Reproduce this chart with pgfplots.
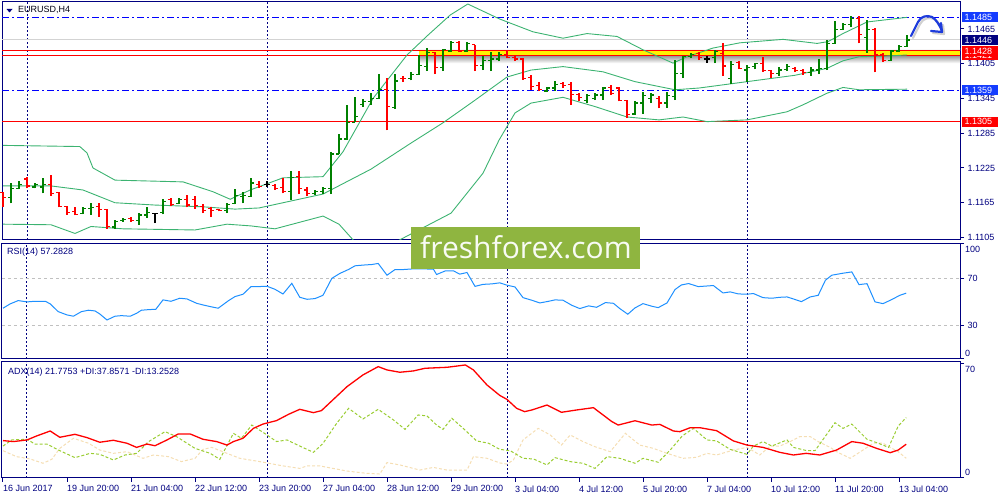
\documentclass[border=0pt]{standalone}
\usepackage{fontspec}
\setmainfont{Liberation Sans}
\newfontfamily\wmfont{Open Sans}
\usepackage{pgfplots}
\usepackage{pgfplotstable}
\pgfplotsset{compat=1.18}

\definecolor{navy}{RGB}{0,0,128}
\definecolor{bull}{RGB}{0,128,0}
\definecolor{bear}{RGB}{255,0,0}
\definecolor{band}{RGB}{60,179,113}
\definecolor{rsiline}{RGB}{30,144,255}
\definecolor{plusdi}{RGB}{154,205,50}
\definecolor{minusdi}{RGB}{245,222,179}
\definecolor{lvlblue}{RGB}{0,0,255}
\definecolor{lblblue}{RGB}{20,60,255}
\definecolor{wm}{RGB}{143,181,64}
\definecolor{pen}{RGB}{30,60,220}

% OHLC ticks
\pgfdeclareplotmark{otick}{\pgfpathmoveto{\pgfpoint{-3pt}{0pt}}\pgfpathlineto{\pgfpoint{0pt}{0pt}}\pgfusepathqstroke}
\pgfdeclareplotmark{ctick}{\pgfpathmoveto{\pgfpoint{0pt}{0pt}}\pgfpathlineto{\pgfpoint{3pt}{0pt}}\pgfusepathqstroke}

\pgfplotsset{
  mtpanel/.style={
    scale only axis, width=958pt, anchor=south west,
    xmin=-0.125, xmax=119.625,
    axis line style={navy, line width=1pt},
    xtick=\empty,
    extra x ticks={3,33,63,93}, extra x tick labels={},
    extra x tick style={grid=major, major tick length=0pt},
    major grid style={navy, line width=1pt, dash pattern=on 2pt off 2pt},
    ytick pos=right, yticklabel pos=right,
    tick align=outside, major tick length=4pt,
    tick style={navy, line width=1pt},
    tick label style={font=\fontsize{9}{10}\selectfont, text=navy},
    /pgf/number format/assume math mode=true,
  },
  lvl/.style={line width=1pt},
}

% bars, split by colour: bullish, bearish, unchanged
\pgfplotstableread{
i o h l c
1 1.1174 1.1199 1.1164 1.1190
2 1.1190 1.1203 1.1188 1.1197
4 1.1192 1.1199 1.1190 1.1197
5 1.1192 1.1207 1.1181 1.1196
10 1.1147 1.1158 1.1145 1.1155
11 1.1155 1.1164 1.1144 1.1157
14 1.1123 1.1135 1.1120 1.1132
15 1.1134 1.1138 1.1132 1.1136
17 1.1135 1.1147 1.1127 1.1144
18 1.1144 1.1157 1.1139 1.1148
20 1.1148 1.1171 1.1145 1.1167
22 1.1164 1.1173 1.1162 1.1171
28 1.1152 1.1164 1.1147 1.1162
29 1.1164 1.1189 1.1162 1.1177
30 1.1176 1.1183 1.1164 1.1177
31 1.1176 1.1208 1.1175 1.1199
36 1.1185 1.1220 1.1170 1.1208
39 1.1181 1.1187 1.1179 1.1184
40 1.1184 1.1193 1.1180 1.1190
41 1.1189 1.1253 1.1180 1.1249
42 1.1249 1.1284 1.1249 1.1275
43 1.1275 1.1334 1.1273 1.1304
44 1.1304 1.1348 1.1304 1.1314
45 1.1335 1.1344 1.1331 1.1340
46 1.1340 1.1354 1.1334 1.1345
47 1.1345 1.1387 1.1344 1.1360
49 1.1329 1.1388 1.1327 1.1375
51 1.1379 1.1390 1.1376 1.1387
52 1.1387 1.1420 1.1386 1.1402
53 1.1400 1.1432 1.1392 1.1425
55 1.1398 1.1430 1.1392 1.1429
56 1.1427 1.1444 1.1426 1.1442
58 1.1427 1.1443 1.1426 1.1440
60 1.1402 1.1419 1.1394 1.1411
61 1.1410 1.1426 1.1392 1.1413
62 1.1413 1.1425 1.1409 1.1421
68 1.1358 1.1365 1.1356 1.1363
69 1.1363 1.1375 1.1358 1.1369
73 1.1342 1.1352 1.1337 1.1350
74 1.1345 1.1354 1.1342 1.1351
75 1.1351 1.1365 1.1342 1.1363
79 1.1318 1.1340 1.1317 1.1337
80 1.1337 1.1357 1.1319 1.1350
81 1.1345 1.1354 1.1337 1.1351
83 1.1337 1.1356 1.1329 1.1350
84 1.1348 1.1411 1.1342 1.1388
85 1.1388 1.1419 1.1380 1.1417
86 1.1417 1.1423 1.1414 1.1421
89 1.1415 1.1429 1.1406 1.1426
91 1.1380 1.1409 1.1370 1.1403
93 1.1394 1.1403 1.1374 1.1399
94 1.1400 1.1407 1.1395 1.1405
97 1.1388 1.1400 1.1384 1.1394
98 1.1395 1.1405 1.1393 1.1400
101 1.1390 1.1400 1.1384 1.1394
102 1.1394 1.1413 1.1387 1.1397
103 1.1397 1.1446 1.1394 1.1440
104 1.1440 1.1478 1.1439 1.1464
105 1.1464 1.1476 1.1463 1.1473
106 1.1472 1.1487 1.1468 1.1483
108 1.1450 1.1480 1.1424 1.1464
111 1.1410 1.1428 1.1410 1.1427
112 1.1427 1.1437 1.1426 1.1434
113 1.1435 1.1454 1.1434 1.1446
}\barsup

\pgfplotstableread{
i o h l c
0 1.1183 1.1184 1.1157 1.1174
3 1.1206 1.1209 1.1190 1.1194
6 1.1196 1.1213 1.1177 1.1181
7 1.1183 1.1183 1.1157 1.1158
8 1.1158 1.1159 1.1144 1.1148
9 1.1150 1.1157 1.1143 1.1145
12 1.1158 1.1164 1.1141 1.1154
13 1.1154 1.1155 1.1120 1.1124
16 1.1138 1.1141 1.1132 1.1135
21 1.1170 1.1173 1.1159 1.1162
23 1.1171 1.1178 1.1157 1.1161
24 1.1170 1.1176 1.1155 1.1160
25 1.1158 1.1162 1.1147 1.1152
26 1.1155 1.1158 1.1140 1.1152
27 1.1154 1.1155 1.1150 1.1152
32 1.1197 1.1202 1.1191 1.1193
34 1.1195 1.1197 1.1187 1.1190
35 1.1191 1.1207 1.1181 1.1184
37 1.1210 1.1219 1.1180 1.1189
38 1.1187 1.1193 1.1176 1.1181
48 1.1361 1.1380 1.1290 1.1331
50 1.1380 1.1383 1.1374 1.1379
54 1.1425 1.1426 1.1387 1.1399
57 1.1442 1.1444 1.1425 1.1427
59 1.1438 1.1438 1.1392 1.1402
63 1.1420 1.1427 1.1414 1.1415
64 1.1415 1.1419 1.1410 1.1413
65 1.1413 1.1414 1.1377 1.1380
66 1.1381 1.1386 1.1360 1.1365
67 1.1368 1.1373 1.1358 1.1361
70 1.1371 1.1374 1.1363 1.1368
71 1.1369 1.1374 1.1334 1.1352
72 1.1352 1.1354 1.1341 1.1346
76 1.1364 1.1369 1.1351 1.1354
77 1.1363 1.1365 1.1340 1.1342
78 1.1341 1.1342 1.1311 1.1317
82 1.1345 1.1350 1.1328 1.1337
87 1.1423 1.1426 1.1411 1.1416
90 1.1423 1.1440 1.1384 1.1401
92 1.1407 1.1409 1.1395 1.1397
95 1.1406 1.1416 1.1391 1.1393
96 1.1393 1.1394 1.1380 1.1388
99 1.1397 1.1399 1.1391 1.1393
100 1.1393 1.1395 1.1386 1.1390
107 1.1483 1.1487 1.1440 1.1456
109 1.1464 1.1466 1.1390 1.1420
110 1.1420 1.1423 1.1408 1.1410
}\barsdown

\pgfplotstableread{
i o h l c
19 1.1147 1.1148 1.1130 1.1147
33 1.1197 1.1202 1.1193 1.1197
88 1.1413 1.1418 1.1407 1.1413
}\barsflat

\pgfplotstableread{
i p
0 1.1264
9.6 1.1262
10.5 1.1251
11.25 1.1225
14 1.1204
22.5 1.1201
26.25 1.1184
28.4 1.1171
30.9 1.1187
35 1.1208
40 1.1210
42.5 1.1253
46.25 1.1345
50.5 1.1420
53.1 1.1454
55.9 1.1489
58.1 1.1508
62.1 1.1482
66.25 1.1460
70 1.1449
73 1.1457
76.75 1.1452
80 1.1429
83.75 1.1406
85.5 1.1417
88.75 1.1432
92.1 1.1441
97.5 1.1447
101.75 1.1440
103.1 1.1443
105 1.1457
108 1.1477
113 1.1485
}\bbup

\pgfplotstableread{
i p
0 1.1194
6 1.1194
10 1.1187
14 1.1165
19 1.1161
25 1.1158
29 1.1154
32 1.1156
34 1.1162
40 1.1180
46 1.1223
51 1.1268
55 1.1303
59 1.1342
63 1.1382
66 1.1394
70 1.1400
75 1.1391
79 1.1374
84 1.1360
87 1.1363
93 1.1374
99 1.1385
103 1.1397
105 1.1410
107 1.1417
110 1.1418
113 1.1420
}\bbmid

\pgfplotstableread{
i p
0 1.1128
6 1.1127
9 1.1112
11 1.1124
15 1.1120
24 1.1118
28 1.1128
31 1.1125
34 1.1120
40 1.1142
42 1.1128
43.75 1.1101
46.5 1.1072
49.6 1.1101
56 1.1147
60 1.1216
62 1.1273
64 1.1320
66 1.1337
70 1.1347
74 1.1331
78 1.1313
82 1.1308
85 1.1313
88 1.1305
93 1.1308
98 1.1322
100 1.1334
103 1.1354
105 1.1364
107 1.1360
113 1.1361
}\bblow

\newcommand\ohlcbars[2]{%
  \addplot[#2, line width=1.2pt,
    quiver={u=0, v=\thisrow{h}-\thisrow{l}, every arrow/.append style={-}}]
    table[x=i, y=l] #1;
  \addplot[#2, only marks, mark=otick, mark options={line width=1.2pt}]
    table[x=i, y=o] #1;
  \addplot[#2, only marks, mark=ctick, mark options={line width=1.2pt}]
    table[x=i, y=c] #1;
}

\begin{document}
\begin{tikzpicture}[x=1pt, y=1pt,
  lbl/.style={anchor=west, xshift=1.5pt, inner xsep=3pt, inner ysep=0pt,
    minimum height=10pt, text width=30pt, align=left, text=white,
    font=\fontsize{9}{10}\selectfont}]
\useasboundingbox (0pt,0pt) rectangle (1000pt,500pt);

% ---------------- price panel ----------------
\begin{axis}[mtpanel, at={(2pt,260pt)}, height=238pt,
  ymin=1.11007, ymax=1.15115, scaled y ticks=false,
  ytick={1.1105,1.1165,1.1225,1.1285,1.1345,1.1405,1.1465},
  yticklabel style={/pgf/number format/.cd, fixed, fixed zerofill, precision=4}]
  % support / resistance objects
  \addplot[lvl, color={rgb,255:red,211;green,211;blue,211}] coordinates {(-0.125,1.1446)(119.625,1.1446)};
  \shade[top color=black!45, bottom color=white] (axis cs:52,1.1406) rectangle (axis cs:119.625,1.14200);
  \shade[top color=white, bottom color=black!20] (axis cs:52,1.1427) rectangle (axis cs:119.625,1.1431);
  \fill[yellow] (axis cs:52,1.1420) rectangle (axis cs:119.625,1.1427);
  \addplot[lvl, bear] coordinates {(-0.125,1.1427)(119.625,1.1427)};
  \addplot[lvl, bear] coordinates {(-0.125,1.1420)(119.625,1.1420)};
  \addplot[line width=1.2pt, bear] coordinates {(-0.125,1.1305)(119.625,1.1305)};
  \addplot[line width=1.4pt, lvlblue, dash pattern=on 7pt off 3pt on 2pt off 3pt] coordinates {(-0.125,1.1485)(119.625,1.1485)};
  \addplot[line width=1.4pt, lvlblue, dash pattern=on 7pt off 3pt on 2pt off 3pt] coordinates {(-0.125,1.1359)(119.625,1.1359)};
  % Bollinger bands
  \addplot[band, line width=0.9pt] table[x=i, y=p] \bbup;
  \addplot[band, line width=0.9pt] table[x=i, y=p] \bbmid;
  \addplot[band, line width=0.9pt] table[x=i, y=p] \bblow;
  % bars
  \ohlcbars{\barsup}{bull}
  \ohlcbars{\barsdown}{bear}
  \ohlcbars{\barsflat}{black}
  \coordinate (a1485) at (axis cs:119.625,1.1485);
  \coordinate (a1446) at (axis cs:119.625,1.1446);
  \coordinate (a1428) at (axis cs:119.625,1.1427);
  \coordinate (a1421) at (axis cs:119.625,1.1420);
  \coordinate (a1359) at (axis cs:119.625,1.1359);
  \coordinate (a1305) at (axis cs:119.625,1.1305);
\end{axis}

% ---------------- RSI panel ----------------
\begin{axis}[mtpanel, at={(2pt,141pt)}, height=116pt,
  ymin=1.3, ymax=100,
  ytick={1.3,30,70,100}, yticklabels={{},30,70,{}}]
  \addplot[line width=1pt, color={rgb,255:red,192;green,192;blue,192}, dash pattern=on 3pt off 3pt] coordinates {(-0.125,70)(119.625,70)};
  \addplot[line width=1pt, color={rgb,255:red,192;green,192;blue,192}, dash pattern=on 3pt off 3pt] coordinates {(-0.125,30)(119.625,30)};
  \addplot[rsiline, line width=1pt] table {
i v
0.0 44.5
0.9 48.2
1.9 51.0
3.0 49.9
4.0 50.4
5.3 50.4
5.9 48.2
6.9 41.6
8.0 38.8
8.8 37.7
9.8 41.6
10.7 42.8
11.5 42.2
12.1 39.6
13.0 34.5
14.0 37.7
14.8 38.2
15.9 37.7
16.7 40.2
17.3 42.8
18.2 43.3
19.1 43.6
20.0 51.6
21.0 50.4
22.1 53.0
23.0 52.4
24.2 48.7
25.0 47.3
25.9 45.9
26.9 44.5
28.2 51.0
29.0 54.4
30.0 56.4
31.0 62.9
31.9 62.9
33.0 63.2
34.0 60.6
35.0 56.6
36.1 65.7
37.1 53.8
38.0 52.1
39.0 52.7
40.0 55.5
41.1 69.9
42.1 74.1
43.2 77.5
44.0 80.6
45.0 81.2
46.1 81.7
46.9 82.6
48.0 72.6
49.0 77.4
50.0 77.4
51.3 78.0
52.5 78.0
53.8 77.7
54.2 73.2
55.3 76.3
56.3 76.3
57.1 73.5
58.0 74.9
59.0 63.1
60.0 64.8
61.1 65.2
62.1 66.1
63.0 64.1
64.0 62.6
65.0 53.5
66.1 51.3
67.1 49.0
68.2 50.4
69.0 51.6
70.0 51.3
71.1 47.0
72.1 44.2
73.2 46.5
74.2 45.3
75.3 49.3
76.3 48.7
77.1 44.2
78.1 39.4
79.0 44.8
80.0 48.4
81.1 46.2
81.9 45.0
83.0 49.0
84.0 60.4
84.8 64.3
85.7 65.5
86.9 62.9
88.8 63.8
90.0 57.5
90.9 58.4
91.9 56.7
93.0 56.4
93.8 57.0
95.0 53.5
96.1 53.0
97.1 53.8
98.0 54.1
98.8 52.4
99.8 50.1
100.9 54.1
101.9 55.5
102.8 68.3
103.6 72.6
105.0 74.3
106.1 75.4
107.0 64.6
108.0 65.4
109.0 49.9
110.0 48.4
111.1 51.9
112.1 55.5
112.9 57.3
};
\end{axis}

% ---------------- ADX panel ----------------
\begin{axis}[mtpanel, at={(2pt,22pt)}, height=116pt,
  ymin=1.4, ymax=71.5,
  ytick={1.4,70.3}, yticklabels={{},{}},
  xtick={0,8,...,112}, xtick pos=bottom, major tick length=4pt,
  xticklabels={16 Jun 2017, 19 Jun 20:00, 21 Jun 04:00, 22 Jun 12:00, 23 Jun 20:00,
    27 Jun 04:00, 28 Jun 12:00, 29 Jun 20:00, 3 Jul 04:00, 4 Jul 12:00,
    5 Jul 20:00, 7 Jul 04:00, 10 Jul 12:00, 11 Jul 20:00, 13 Jul 04:00},
  xticklabel style={anchor=north west, xshift=-1pt, inner xsep=1pt}]
  % -DI
  \addplot[minusdi, line width=1pt, dash pattern=on 3pt off 2pt] table {
i v
0 17.9
1.7 14.3
3.4 12.9
5.0 10.3
6.1 12.7
7.1 19.3
8.8 25.4
10.7 22.4
12.1 18.3
13.8 16.3
15.5 17.3
17.5 13.3
18.8 15.3
20.7 14.3
22.3 11.3
24.0 13.3
25.0 18.7
26.1 19.9
28.0 16.3
29.6 13.3
32.1 11.3
35.0 8.7
37.1 7.2
38.0 8.7
39.6 8.7
43.0 5.6
45.5 4.2
47.1 3.8
48.0 10.7
49.6 9.3
52.1 6.2
53.8 7.8
55.5 6.2
58.0 6.2
58.8 14.3
60.5 13.3
62.1 10.5
63.0 9.8
63.8 12.3
65.0 24.4
66.9 31.4
68.4 27.4
69.8 21.3
70.9 27.4
72.5 23.4
74.0 20.3
75.9 17.3
77.8 28.4
79.6 21.3
81.3 19.3
83.0 16.3
85.0 13.3
86.7 13.9
88.0 16.3
89.2 15.3
91.3 18.3
93.0 19.9
94.6 15.3
95.9 20.7
97.1 20.7
98.4 23.4
99.6 26.4
100.9 26.4
101.9 23.4
103.4 19.9
104.2 17.3
105.9 13.3
107.5 18.3
108.8 22.4
110.0 22.4
110.9 19.9
111.9 17.3
112.9 13.3
};
  % +DI
  \addplot[plusdi, line width=1pt, dash pattern=on 3pt off 2pt] table {
i v
0 20.7
1.1 24.4
3.0 24.8
4.0 21.9
5.5 21.9
7.1 17.9
9.0 13.7
10.9 16.3
12.1 15.7
13.8 12.3
15.25 15.3
16.7 16.3
18.2 23.4
20.25 29.4
21.7 26.4
24.0 19.3
25.9 16.3
27.1 12.7
28.8 28.4
29.8 25.4
31.1 33.4
33.0 27.4
34.2 23.4
35.5 24.4
37.1 20.7
38.8 16.9
40.0 22.3
41.7 34.4
43.2 43.5
45.0 37.1
46.9 42.9
48.8 36.5
50.25 30.8
51.9 39.5
53.0 38.9
54.2 33.4
55.0 30.8
56.1 37.5
57.75 30.4
59.2 23.8
60.7 22.4
62.1 18.7
63.4 17.9
65.0 13.3
66.3 12.9
68.0 9.3
69.0 13.7
70.9 11.3
72.5 10.3
74.0 7.2
75.5 14.3
77.1 13.3
79.0 10.3
80.0 13.3
81.9 10.9
83.4 18.3
84.9 26.8
86.3 31.4
88.0 24.4
89.2 23.8
90.9 18.7
93.0 15.7
93.8 20.7
95.0 23.4
96.1 20.7
98.0 24.4
98.8 19.9
100.5 17.9
101.5 17.9
104.0 34.8
105.0 31.4
106.1 34.0
108.0 24.8
109.2 22.8
110.7 19.9
111.9 32.8
112.9 37.9
};
  % ADX
  \addplot[bear, line width=1.3pt] table {
i v
0 24.0
1.3 23.4
3.0 24.4
4.2 26.8
5.9 29.8
7.1 26.0
9.0 27.8
10.5 25.8
12.1 23.0
13.8 24.2
15.5 22.4
16.7 19.9
18.0 21.9
19.0 20.9
20.5 24.4
21.9 28.0
23.4 28.0
25.0 24.8
26.7 23.4
28.0 21.3
28.8 23.4
30.0 25.4
31.3 31.4
32.5 34.0
34.2 36.1
35.7 39.9
37.1 42.9
38.8 40.9
39.8 42.1
41.3 48.9
43.0 56.6
45.0 63.7
46.9 68.7
48.0 66.7
49.6 65.3
51.3 66.1
52.75 67.7
55.5 68.3
57.8 69.7
58.8 66.7
60.5 57.6
62.1 51.3
63.0 48.9
64.2 43.5
65.2 41.5
66.1 42.5
68.0 45.5
69.8 41.1
71.7 42.5
73.8 43.9
76.1 35.5
76.9 33.4
79.0 36.0
81.1 33.4
82.1 33.8
83.8 29.8
84.6 29.4
85.9 31.8
87.1 31.8
89.2 30.0
91.3 23.8
93.0 21.3
95.0 19.9
97.1 16.9
98.8 15.3
100.4 16.3
102.1 15.3
104.2 18.3
106.1 23.4
107.5 22.4
109.2 19.3
110.9 16.7
111.9 18.3
112.9 21.8
};
\end{axis}

% ---------------- texts and overlays ----------------
\fill[navy] (6.5pt,491pt) -- (12.5pt,491pt) -- (9.5pt,487.5pt) -- cycle;
\node[anchor=west, inner sep=0pt, font=\fontsize{9}{10}\selectfont, text=black!85!navy] at (18pt,490pt) {EURUSD,H4};
\node[anchor=west, inner sep=0pt, font=\fontsize{9}{10}\selectfont, text=navy] at (7pt,248pt) {RSI(14) 57.2828};
\node[anchor=west, inner sep=0pt, font=\fontsize{9}{10}\selectfont, text=navy] at (8pt,128pt) {ADX(14) 21.7753 +DI:37.8571 -DI:13.2528};

\begin{scope}[every node/.style={anchor=west, inner sep=0pt, font=\fontsize{9}{10}\selectfont, text=navy}]
  \node at (965pt,251pt) {100};
  \node at (965pt,147pt) {0};
  \node at (965pt,131pt) {70};
  \node at (965pt,28pt) {0};
\end{scope}

\node[lbl, fill=lblblue] at (a1485) {1.1485};
\node[lbl, fill=navy] at (a1446) {1.1446};
\node[lbl, fill=bear] at (a1421) {1.1421};
\node[lbl, fill=bear] at (a1428) {1.1428};
\node[lbl, fill=lblblue] at (a1359) {1.1359};
\node[lbl, fill=bear] at (a1305) {1.1305};

% hand-drawn forecast arrow
\begin{scope}[line cap=round, line join=round, line width=2.2pt]
  \draw[black!30, opacity=0.6, xshift=2pt, yshift=-2pt]
    (911pt,464pt) -- (918pt,478pt) .. controls (921pt,484pt) and (927pt,485pt) .. (932pt,483pt)
    .. controls (936pt,481pt) and (940pt,474pt) .. (942pt,469pt)
    (931pt,469pt) -- (942pt,468pt) -- (941pt,477pt);
  \draw[pen]
    (911pt,464pt) -- (918pt,478pt) .. controls (921pt,484pt) and (927pt,485pt) .. (932pt,483pt)
    .. controls (936pt,481pt) and (940pt,474pt) .. (942pt,469pt)
    (931pt,469pt) -- (942pt,468pt) -- (941pt,477pt);
\end{scope}

% watermark
\fill[wm] (411pt,273pt) rectangle (640pt,231pt);
\node[inner sep=0pt, text=white!94!wm, font=\wmfont\fontsize{30}{30}\selectfont] at (526pt,253pt) {freshforex.com};
\end{tikzpicture}
\end{document}
